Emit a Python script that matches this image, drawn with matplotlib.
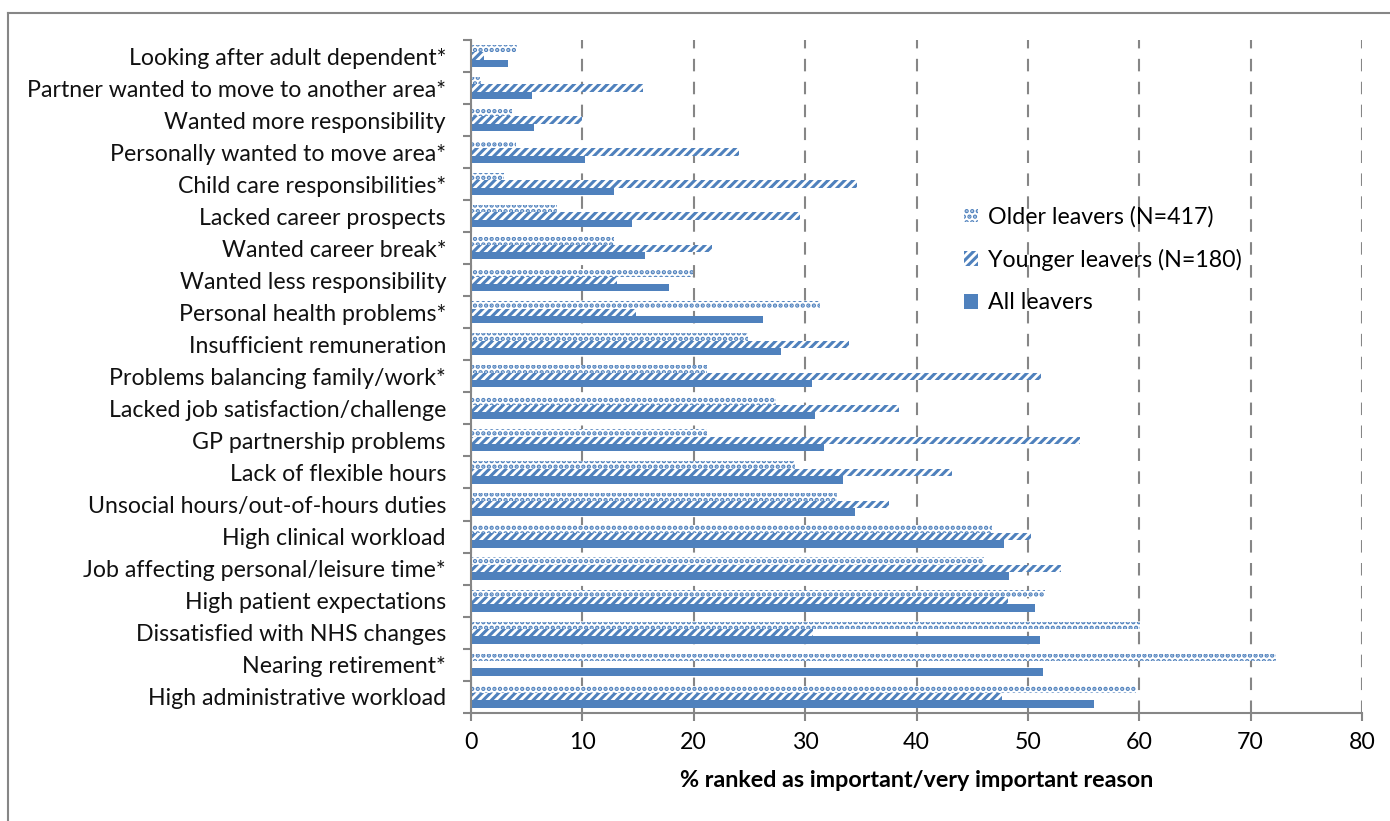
import numpy as np
import matplotlib.pyplot as plt
from matplotlib.patches import Patch
from matplotlib.lines import Line2D

# Reasons for leaving, listed bottom to top as they appear on the chart
reasons = [
    "High administrative workload",
    "Nearing retirement*",
    "Dissatisfied with NHS changes",
    "High patient expectations",
    "Job affecting personal/leisure time*",
    "High clinical workload",
    "Unsocial hours/out-of-hours duties",
    "Lack of flexible hours",
    "GP partnership problems",
    "Lacked job satisfaction/challenge",
    "Problems balancing family/work*",
    "Insufficient remuneration",
    "Personal health problems*",
    "Wanted less responsibility",
    "Wanted career break*",
    "Lacked career prospects",
    "Child care responsibilities*",
    "Personally wanted to move area*",
    "Wanted more responsibility",
    "Partner wanted to move to another area*",
    "Looking after adult dependent*",
]

older = [59.7, 72.3, 60.1, 51.5, 46.1, 46.8, 32.9, 29.1, 21.2, 27.4, 21.2,
         24.9, 31.3, 19.9, 12.8, 7.7, 3.0, 4.0, 3.7, 0.9, 4.1]
younger = [47.7, 0.0, 30.7, 48.2, 53.0, 50.3, 37.5, 43.2, 54.7, 38.4, 51.2,
           33.9, 14.8, 13.1, 21.6, 29.5, 34.7, 24.1, 10.0, 15.4, 1.2]
all_leavers = [55.9, 51.4, 51.1, 50.6, 48.3, 47.9, 34.5, 33.4, 31.7, 30.9, 30.6,
               27.8, 26.2, 17.8, 15.6, 14.5, 12.8, 10.2, 5.7, 5.5, 3.3]

series_names = ["Older leavers (N=417)", "Younger leavers (N=180)", "All leavers"]

blue = "#4F81BD"
grey = "#868686"

plt.rcParams['font.family'] = ['Lato', 'DejaVu Sans']
plt.rcParams['hatch.color'] = blue
plt.rcParams['hatch.linewidth'] = 2.2

fig = plt.figure(figsize=(13.9, 8.21), dpi=100)
ax = fig.add_axes([471/1390, 1 - 712.7/821, (1362 - 471)/1390, (712.7 - 40)/821])

y = np.arange(len(reasons))
h = 0.23
dots = "..."
dashes = "////"

ax.barh(y + h, older, height=h, color="white", edgecolor=blue, hatch=dots, linewidth=0)
ax.barh(y, younger, height=h, color="white", edgecolor=blue, hatch=dashes, linewidth=0)
ax.barh(y - h, all_leavers, height=h, color=blue, edgecolor=blue, linewidth=0)

ax.set_xlim(0, 80)
ax.set_ylim(-0.5, len(reasons) - 0.5)
ax.set_xticks(np.arange(0, 81, 10))
ax.set_yticks(y)
ax.set_yticklabels(reasons, fontsize=16.7, color="#111111")
ax.set_yticks(np.arange(-0.5, len(reasons), 1), minor=True)
ax.tick_params(axis='y', which='major', length=0, pad=18)
ax.tick_params(axis='y', which='minor', length=6, color=grey, width=1.5)
ax.tick_params(axis='x', length=6, color=grey, width=1.5, labelsize=16.7, pad=8)

ax.set_xlabel("% ranked as important/very important reason", fontsize=16.8, fontweight='bold', labelpad=12)

for s in ['top', 'right']:
    ax.spines[s].set_visible(False)
for s in ['left', 'bottom']:
    ax.spines[s].set_color(grey)
    ax.spines[s].set_linewidth(1.5)

ax.xaxis.grid(True, linestyle=(0, (6, 5)), color=grey, linewidth=1.5)
ax.set_axisbelow(True)

handles = [
    Patch(facecolor="white", edgecolor=blue, hatch=dots, linewidth=0),
    Patch(facecolor="white", edgecolor=blue, hatch=dashes, linewidth=0),
    Patch(facecolor=blue, edgecolor=blue, linewidth=0),
]
fig.legend(handles, series_names, loc='upper left', bbox_to_anchor=(952/1390, 1 - 194/821),
           frameon=False, fontsize=16.7, handlelength=0.6, handleheight=0.6,
           handletextpad=0.45, labelspacing=0.93, borderpad=0)

# outer chart frame
fig.add_artist(Line2D([8/1390, 8/1390], [0, 1 - 13/821], color=grey, linewidth=1.5))
fig.add_artist(Line2D([8/1390, 1], [1 - 13/821, 1 - 13/821], color=grey, linewidth=1.5))

fig.savefig("out.png", dpi=100, facecolor="white")
